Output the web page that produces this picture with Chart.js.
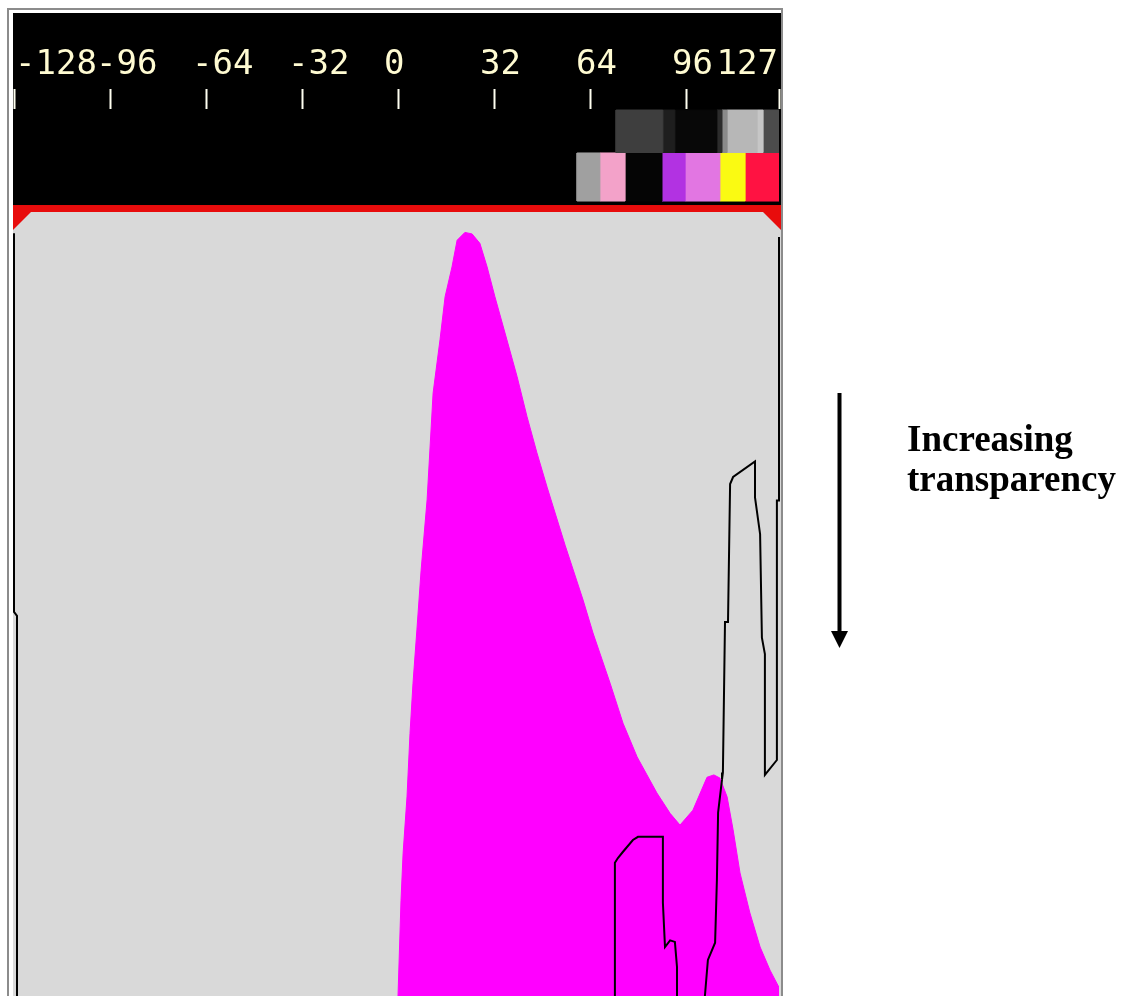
<!DOCTYPE html>
<html>
<head>
<meta charset="utf-8">
<title>Transfer function</title>
<script src="https://cdn.jsdelivr.net/npm/chart.js@4.4.1/dist/chart.umd.min.js"></script>
<style>
  html, body { margin: 0; padding: 0; background: #fff; width: 1125px; height: 996px; overflow: hidden; }
  #wrap { position: absolute; left: 0; top: 0; width: 790px; height: 996px; }
  #arrow { position: absolute; left: 0; top: 0; pointer-events: none; }
  #note { position: absolute; left: 907px; top: 419px; font: bold 37px "Liberation Serif", "Times New Roman", serif; line-height: 40px; color: #000; white-space: nowrap; }
</style>
</head>
<body>
<div id="wrap"><canvas id="tf" width="790" height="996"></canvas></div>
<svg id="arrow" width="1125" height="996">
  <line x1="839.5" y1="393" x2="839.5" y2="635" stroke="#000" stroke-width="4"/>
  <polygon points="831,631 848,631 839.5,648" fill="#000"/>
</svg>
<div id="note">Increasing<br>transparency</div>
<script>
// Scalar value axis (signed 8-bit data range)
const TICK_VALUES = [-128, -96, -64, -32, 0, 32, 64, 96, 127];
const TICK_LABELS = ['-128', '-96', '-64', '-32', '0', '32', '64', '96', '127'];

// Histogram of scalar values (normalised height)
const histX = [0, 1, 1.7, 3, 4, 5, 6.3, 7.7, 9.7, 11.7, 14, 15.7, 18, 19.7, 22.3, 24.7, 27.3, 29.7, 32.3,
  36.3, 39.7, 43, 46.3, 49.7, 55.7, 61.7, 65, 70.7, 75, 79.7, 86.3, 90.7, 94, 98.3, 103, 105.3, 107.3,
  109.7, 111.7, 114, 117.3, 120.7, 124, 127];
const histY = [0, 0.122, 0.182, 0.254, 0.335, 0.399, 0.467, 0.543, 0.633, 0.769, 0.837, 0.892, 0.930,
  0.964, 0.974, 0.972, 0.960, 0.930, 0.892, 0.837, 0.790, 0.739, 0.693, 0.649, 0.575, 0.505, 0.463,
  0.399, 0.348, 0.305, 0.259, 0.233, 0.218, 0.237, 0.279, 0.282, 0.278, 0.254, 0.212, 0.157, 0.106,
  0.0625, 0.033, 0.011];

// Opacity curve: edge at the low end of the range
const lowEdgeX = [-128, -128, -127, -127];
const lowEdgeY = [0.973, 0.490, 0.485, 0];

// Opacity curve: narrow ramp at the high end of the range
const highRampX = [127, 127, 126.3, 126.3, 122.3, 122.3, 121.3, 120.7, 119, 119, 111.7, 110.7, 110, 109,
  108.3, 108, 106.7, 106.3, 105.7, 103.3, 102.3];
const highRampY = [0.968, 0.632, 0.632, 0.301, 0.282, 0.436, 0.457, 0.589, 0.636, 0.682, 0.662, 0.653,
  0.477, 0.477, 0.285, 0.276, 0.234, 0.148, 0.068, 0.046, 0];

// Opacity curve: low box between 72 and 93
const boxX = [72.3, 72.3, 73.3, 75, 78.3, 80, 88.3, 88.3, 89, 90.7, 92.3, 93, 93];
const boxY = [0, 0.170, 0.176, 0.184, 0.199, 0.203, 0.203, 0.119, 0.0625, 0.071, 0.069, 0.037, 0];

// Grey-level (opacity) swatches
const opacityStart = [72.7, 88.3, 92.3, 106.3, 108, 109.7, 119.7, 121.7];
const opacityEnd   = [88.3, 92.3, 106.3, 108, 109.7, 119.7, 121.7, 127];
const opacityShade = ['#3e3e3e', '#1e1e1e', '#080808', '#2c2c2c', '#8a8a8a', '#b7b7b7', '#c6c6c6', '#4c4c4c'];

// Colour-map swatches
const colourStart = [59.7, 67.3, 75.7, 88, 95.7, 107.3, 115.7];
const colourEnd   = [67.3, 75.7, 88, 95.7, 107.3, 115.7, 127];
const colourFill  = ['#a0a0a0', '#f3a2c9', '#050505', '#b232e2', '#e276e2', '#fafa12', '#ff1242'];

// Vertical layout in opacity units: 1.0 is the top of the editing area,
// the band above it holds the two swatch rows.
const Y_MAX = 1.1314;
const OPACITY_ROW = { lo: 1.0759, hi: 1.1301 };
const COLOUR_ROW  = { lo: 1.0140, hi: 1.0753 };

const pts = (xs, ys) => xs.map((x, i) => ({ x, y: ys[i] }));

function outline(label, xs, ys) {
  return { label, data: pts(xs, ys), borderColor: '#000', borderWidth: 2, pointRadius: 0,
           fill: false, tension: 0, order: 0, clip: 4 };
}

function swatch(x0, x1, row, colour) {
  return {
    label: 'swatch',
    data: [{ x: x0, y: row.lo }, { x: x1, y: row.lo }, { x: x1, y: row.hi }, { x: x0, y: row.hi }, { x: x0, y: row.lo }],
    fill: 'shape', backgroundColor: colour, borderColor: colour, borderWidth: 1,
    pointRadius: 0, tension: 0, order: 2
  };
}

const datasets = [
  outline('low edge', lowEdgeX, lowEdgeY),
  outline('high ramp', highRampX, highRampY),
  outline('box', boxX, boxY),
  ...opacityStart.map((s, i) => swatch(s, opacityEnd[i], OPACITY_ROW, opacityShade[i])),
  ...colourStart.map((s, i) => swatch(s, colourEnd[i], COLOUR_ROW, colourFill[i])),
  { label: 'histogram', data: pts(histX, histY), borderColor: '#ff00ff', backgroundColor: '#ff00ff',
    borderWidth: 1, pointRadius: 0, fill: 'origin', tension: 0, order: 5 }
];

// Panel: frame, black header, red rim with bevelled corners, grey editing area
const panel = {
  id: 'panel',
  beforeDraw(chart) {
    const { ctx, chartArea: a, scales: { y } } = chart;
    const top = y.getPixelForValue(1);
    const L = a.left - 1, R = a.right + 2, B = a.bottom;
    ctx.save();
    ctx.fillStyle = '#8c8c8c';
    ctx.fillRect(7, 8, 2, B - 8);
    ctx.fillRect(7, 8, R - 5, 2);
    ctx.fillRect(R, 8, 2, B - 8);
    ctx.fillStyle = '#000';
    ctx.fillRect(L, 13, R - L, top - 13);
    ctx.fillStyle = '#e80c0c';
    ctx.fillRect(L, top - 7, R - L, 26);
    ctx.fillStyle = '#d9d9d9';
    ctx.beginPath();
    ctx.moveTo(L, top + 18);
    ctx.lineTo(L + 18, top);
    ctx.lineTo(R - 18, top);
    ctx.lineTo(R, top + 18);
    ctx.lineTo(R, B);
    ctx.lineTo(L, B);
    ctx.closePath();
    ctx.fill();
    ctx.restore();
  },
  afterDraw(chart) {
    // value labels sit slightly left of their tick, kept inside the header
    const { ctx, chartArea: a, scales: { x } } = chart;
    ctx.save();
    ctx.font = '34px "DejaVu Sans Mono", monospace';
    ctx.fillStyle = '#fffbd2';
    ctx.textBaseline = 'alphabetic';
    ctx.textAlign = 'left';
    TICK_VALUES.forEach((v, i) => {
      const txt = TICK_LABELS[i];
      const w = ctx.measureText(txt).width;
      let left = x.getPixelForValue(v) - 14;
      left = Math.max(a.left + 1, Math.min(left, a.right - 1 - w));
      ctx.fillText(txt, left, a.top - 35);
    });
    ctx.restore();
  }
};

new Chart(document.getElementById('tf'), {
  type: 'line',
  data: { datasets },
  options: {
    responsive: false,
    animation: false,
    devicePixelRatio: 1,
    events: [],
    layout: { autoPadding: false, padding: { left: 14, right: 11, top: 89, bottom: 0 } },
    plugins: { legend: { display: false }, tooltip: { enabled: false } },
    scales: {
      x: {
        type: 'linear', position: 'top', min: -128, max: 127,
        afterBuildTicks: s => { s.ticks = TICK_VALUES.map(v => ({ value: v })); },
        ticks: { display: false },
        grid: { drawOnChartArea: false, drawTicks: true, tickLength: 20, tickWidth: 2, tickColor: '#fffff0' },
        border: { display: false }
      },
      y: { type: 'linear', display: false, min: 0, max: Y_MAX }
    }
  },
  plugins: [panel]
});
</script>
</body>
</html>
